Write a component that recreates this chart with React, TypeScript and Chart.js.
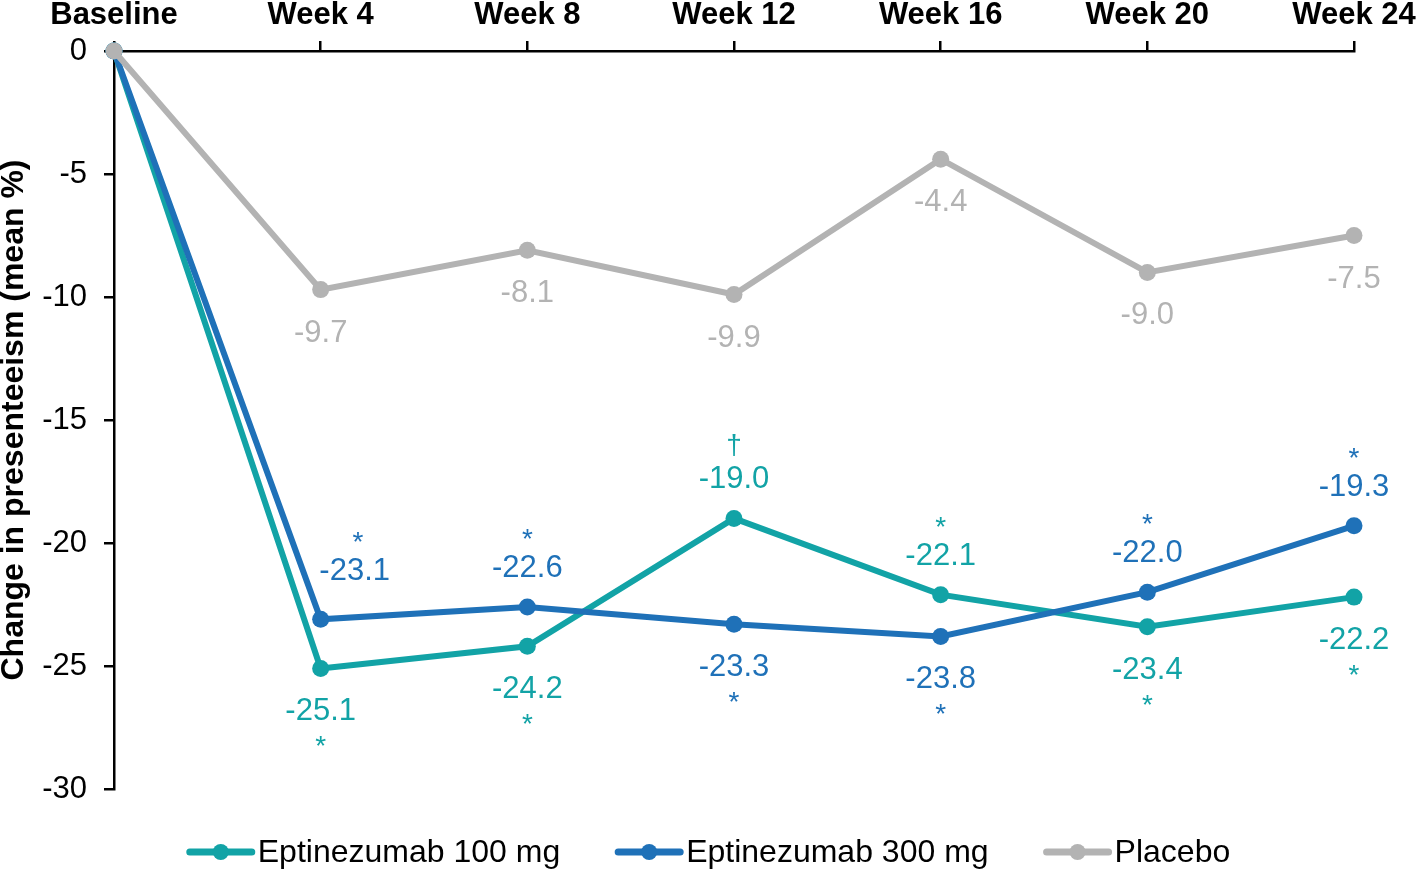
import React, { useEffect, useRef } from 'react';
import { Chart, registerables } from 'chart.js';

Chart.register(...registerables);

const categories = ['Baseline', 'Week 4', 'Week 8', 'Week 12', 'Week 16', 'Week 20', 'Week 24'];
const seriesNames = ['Eptinezumab 100 mg', 'Eptinezumab 300 mg', 'Placebo'];
const epti100 = [0, -25.1, -24.2, -19.0, -22.1, -23.4, -22.2];
const epti300 = [0, -23.1, -22.6, -23.3, -23.8, -22.0, -19.3];
const placebo = [0, -9.7, -8.1, -9.9, -4.4, -9.0, -7.5];
const yTickValues = [0, -5, -10, -15, -20, -25, -30];
const marks100 = ['', '*', '*', '\u2020', '*', '*', '*'];
const marks300 = ['', '*', '*', '*', '*', '*', '*'];
const marksPlacebo = ['', '', '', '', '', '', ''];
const side100 = ['', 'below', 'below', 'above', 'above', 'below', 'below'];
const side300 = ['', 'above', 'above', 'below', 'below', 'above', 'above'];
const sidePlacebo = ['', 'below', 'below', 'below', 'below', 'below', 'below'];

const TEAL = '#12A3A6';
const BLUE = '#1F71B8';
const GREY = '#B3B3B3';
const FONT = "'Liberation Sans', Arial, Helvetica, sans-serif";

const labelPlugin = {
  id: 'valueLabels',
  afterDatasetsDraw(chart: any) {
    const ctx = chart.ctx;
    const cfg = chart.options.plugins.valueLabels;
    chart.data.datasets.forEach((ds: any, di: number) => {
      const meta = chart.getDatasetMeta(di);
      const info = cfg.series[di];
      meta.data.forEach((pt: any, i: number) => {
        if (i === 0) return;
        const side = info.sides[i];
        if (!side) return;
        const dir = side === 'above' ? -1 : 1;
        const extra = (info.extra && info.extra[i]) || 0;
        const dx = (info.dx && info.dx[i]) || 0;
        const drawCentered = (text: string, cx: number, cy: number, size: number) => {
          ctx.font = `${size}px ${FONT}`;
          ctx.textAlign = 'center';
          ctx.textBaseline = 'alphabetic';
          const m = ctx.measureText(text);
          const asc = m.actualBoundingBoxAscent;
          const desc = m.actualBoundingBoxDescent;
          ctx.fillText(text, cx, cy + (asc - desc) / 2);
        };
        ctx.save();
        ctx.fillStyle = info.color;
        const val = ds.data[i].toFixed(1);
        drawCentered(val, pt.x + dx, pt.y + dir * (cfg.valueOffset + extra), cfg.valueSize);
        const mk = info.marks[i];
        if (mk) {
          drawCentered(mk, pt.x + dx * 1.1, pt.y + dir * (cfg.markOffset + extra), cfg.markSize);
        }
        ctx.restore();
      });
    });
  },
};

const legendPlugin = {
  id: 'lineLegend',
  afterDraw(chart: any) {
    const ctx = chart.ctx;
    const cfg = chart.options.plugins.lineLegend;
    ctx.save();
    ctx.font = `${cfg.fontSize}px ${FONT}`;
    const items = chart.data.datasets.map((ds: any) => ({
      text: ds.label,
      color: ds.borderColor,
      w: cfg.lineLen + cfg.textGap + ctx.measureText(ds.label).width,
    }));
    const total = items.reduce((s: number, it: any) => s + it.w, 0) + cfg.itemGap * (items.length - 1);
    let x = chart.width / 2 - total / 2;
    const y = cfg.y;
    items.forEach((it: any) => {
      ctx.strokeStyle = it.color;
      ctx.lineWidth = 7;
      ctx.lineCap = 'round';
      ctx.beginPath();
      ctx.moveTo(x + 3, y);
      ctx.lineTo(x + cfg.lineLen - 3, y);
      ctx.stroke();
      ctx.fillStyle = it.color;
      ctx.beginPath();
      ctx.arc(x + cfg.lineLen / 2, y, 8, 0, Math.PI * 2);
      ctx.fill();
      ctx.fillStyle = '#000';
      ctx.textAlign = 'left';
      ctx.textBaseline = 'middle';
      ctx.fillText(it.text, x + cfg.lineLen + cfg.textGap, y + 1);
      x += it.w + cfg.itemGap;
    });
    ctx.restore();
  },
};

export default function App() {
  const ref = useRef<HTMLCanvasElement>(null);
  useEffect(() => {
    const mkDs = (label: string, data: number[], color: string, order: number) => ({
      label,
      data,
      borderColor: color,
      backgroundColor: color,
      pointBackgroundColor: color,
      pointBorderColor: color,
      pointRadius: 8.5,
      pointBorderWidth: 0,
      borderWidth: 6,
      tension: 0,
      clip: false as any,
      order,
    });
    const chart = new Chart(ref.current as HTMLCanvasElement, {
      type: 'line',
      data: {
        labels: categories,
        datasets: [
          mkDs(seriesNames[0], epti100, TEAL, 2),
          mkDs(seriesNames[1], epti300, BLUE, 1),
          mkDs(seriesNames[2], placebo, GREY, 0),
        ],
      },
      options: {
        responsive: false,
        animation: false,
        layout: { padding: { left: 0, right: 63, top: 0, bottom: 80 } },
        scales: {
          x: {
            type: 'category',
            position: 'top',
            offset: false,
            grid: { drawOnChartArea: false, drawTicks: true, tickLength: 10, color: '#000', lineWidth: 2.5 },
            border: { display: true, color: '#000', width: 2.5 },
            ticks: {
              color: '#000',
              font: { family: FONT, size: 31, weight: 'bold' },
              padding: 7,
              maxRotation: 0,
              autoSkip: false,
            },
            afterFit: (s: any) => {
              s.height = 51;
              s.paddingLeft = 0;
              s.paddingRight = 0;
            },
          },
          y: {
            min: -30,
            max: 0,
            position: 'left',
            grid: { drawOnChartArea: false, drawTicks: true, tickLength: 10, color: '#000', lineWidth: 2.5 },
            border: { display: true, color: '#000', width: 2.5 },
            ticks: {
              color: '#000',
              font: { family: FONT, size: 31 },
              padding: 17,
              callback: (v: any) => String(v),
            },
            afterBuildTicks: (s: any) => { s.ticks = yTickValues.map((v) => ({ value: v })); },
            title: {
              display: true,
              text: 'Change in presenteeism (mean %)',
              color: '#000',
              font: { family: FONT, size: 32, weight: 'bold', lineHeight: 1 },
              padding: { top: -2, bottom: 0 },
            },
            afterFit: (s: any) => {
              s.width = 114;
              s.paddingTop = 0;
              s.paddingBottom = 0;
            },
          },
        },
        plugins: {
          legend: { display: false },
          tooltip: { enabled: false },
          valueLabels: {
            valueSize: 31,
            markSize: 28,
            valueOffset: 41,
            markOffset: 73,
            series: [
              { color: TEAL, sides: side100, marks: marks100 },
              { color: BLUE, sides: side300, marks: marks300, extra: [0, 9, 0, 0, 0, 0, 0], dx: [0, 34, 0, 0, 0, 0, 0] },
              { color: GREY, sides: sidePlacebo, marks: marksPlacebo },
            ],
          },
          lineLegend: { fontSize: 32, lineLen: 68, textGap: 3, itemGap: 55, y: 852 },
        } as any,
      },
      plugins: [labelPlugin, legendPlugin],
    });
    return () => chart.destroy();
  }, []);
  return (
    <div style={{ position: 'absolute', left: 0, top: 0, width: 1417, height: 869, background: '#fff' }}>
      <canvas ref={ref} width={1417} height={869} style={{ display: 'block' }} />
    </div>
  );
}
